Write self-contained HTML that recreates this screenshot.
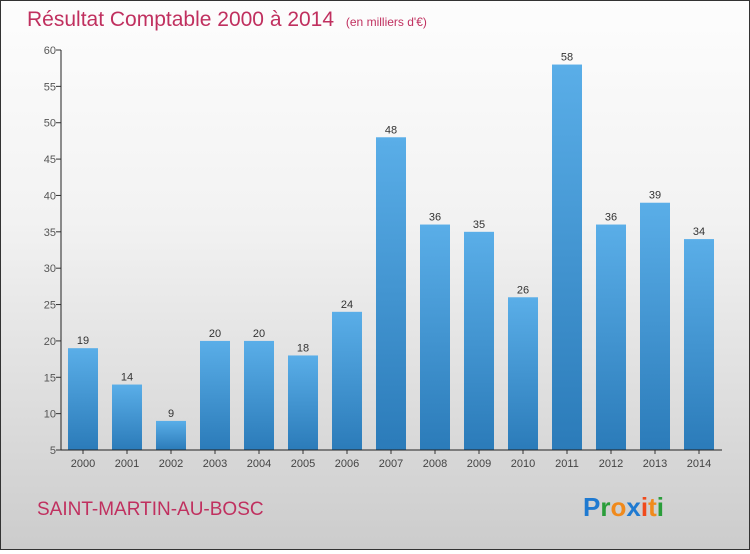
<!DOCTYPE html>
<html><head><meta charset="utf-8"><style>
body{margin:0}
#c{width:748px;height:548px;border:1px solid #333;background:linear-gradient(#fdfdfd,#f2f2f2 40%,#d9d9d9 80%,#cccccc);position:relative;font-family:"Liberation Sans",sans-serif}
</style></head><body>
<div id="c">
<svg id="s" width="748" height="548">
<defs><linearGradient id="g" x1="0" y1="0" x2="0" y2="1"><stop offset="0" stop-color="#5aaee8"/><stop offset="1" stop-color="#2b7bb9"/></linearGradient></defs>
<text x="26" y="25" font-size="21" fill="#c0305f">Résultat Comptable 2000 à 2014 <tspan font-size="12" dx="6">(en milliers d'€)</tspan></text>
<text x="36" y="514" font-size="19" fill="#c0305f">SAINT-MARTIN-AU-BOSC</text>
<g font-size="26" font-weight="bold">
<text x="582" y="515"><tspan fill="#1f7ad1">P</tspan><tspan fill="#2a9d3a">r</tspan><tspan fill="#f08a1c">o</tspan><tspan fill="#1f7ad1">x</tspan><tspan fill="#f04a1c">i</tspan><tspan fill="#f08a1c">t</tspan><tspan fill="#2a9d3a">i</tspan></text></g>
</svg></div>
<script>
const years=["2000","2001","2002","2003","2004","2005","2006","2007","2008","2009","2010","2011","2012","2013","2014"];
const values=[19,14,9,20,20,18,24,48,36,35,26,58,36,39,34];
const ticks=[5,10,15,20,25,30,35,40,45,50,55,60];
const NS="http://www.w3.org/2000/svg",s=document.getElementById('s');
const y=v=>449-(v-5)*(400/55), x=i=>82+i*44;
function el(t,a,p){const e=document.createElementNS(NS,t);for(const k in a)e.setAttribute(k,a[k]);(p||s).appendChild(e);return e;}
ticks.forEach(t=>{
const l=el('line',{x1:55,x2:60,y1:y(t),y2:y(t),stroke:'#333'});


const tx=el('text',{x:55,y:y(t)+4,'font-size':11,'text-anchor':'end',fill:'#555'});tx.textContent=t;


});
values.forEach((v,i)=>{
const r=el('rect',{x:x(i)-15,y:y(v),width:30,height:y(5)-y(v),fill:'url(#g)'});


const t=el('text',{x:x(i),y:y(v)-4,'font-size':11,'text-anchor':'middle',fill:'#333'});t.textContent=v;


const xl=el('text',{x:x(i),y:466,'font-size':11,'text-anchor':'middle',fill:'#444'});xl.textContent=years[i];


const xt=el('line',{x1:x(i),x2:x(i),y1:449,y2:453,stroke:'#333'});


});
const ya=el('line',{x1:60,x2:60,y1:y(60),y2:449,stroke:'#222'});


const xa=el('line',{x1:60,x2:721,y1:449,y2:449,stroke:'#222'});


</script>
</body></html>
